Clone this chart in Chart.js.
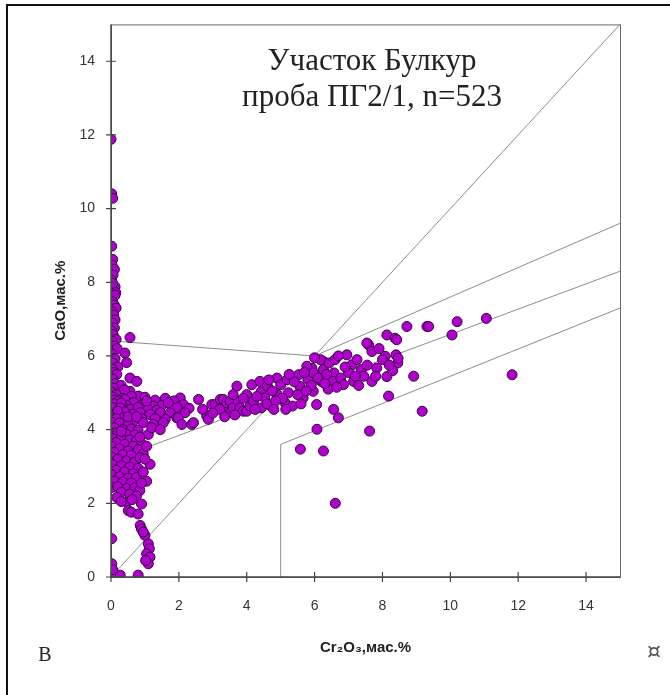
<!DOCTYPE html>
<html>
<head>
<meta charset="utf-8">
<script src="https://cdn.jsdelivr.net/npm/chart.js@4/dist/chart.umd.min.js"></script>
<style>
  html, body { margin: 0; padding: 0; background: #fff; }
  #plot { display: block; }
</style>
</head>
<body>
<canvas id="plot" width="670" height="695"></canvas>
<script>
// garnet analyses, [Cr2O3, CaO] wt.%
// near-zero Cr2O3 column, high CaO
const columnPts = [
    [0.0, 11.88], [0.02, 10.4], [0.05, 10.28], [0.02, 8.98], [0.05, 8.62], [0.03, 8.47],
    [0.1, 8.35], [0.06, 8.2], [0.02, 8.05], [0.12, 7.88], [0.05, 7.97], [0.14, 7.72],
    [0.03, 7.6], [0.12, 7.65], [0.05, 7.47], [0.1, 7.38], [0.15, 7.3], [0.03, 7.2],
    [0.08, 7.11], [0.12, 6.98], [0.04, 6.89], [0.1, 6.76], [0.02, 6.68], [0.06, 6.58],
    [0.56, 6.5], [0.15, 6.45], [0.03, 6.4], [0.1, 6.27], [0.05, 6.15], [0.18, 6.2],
    [0.41, 6.08], [0.02, 6.05], [0.12, 5.93], [0.46, 5.82], [0.06, 5.8], [0.2, 5.7],
    [0.03, 5.65], [0.1, 5.55], [0.17, 5.5], [0.56, 5.4], [0.76, 5.31], [0.04, 5.38],
    [0.12, 5.25], [0.3, 5.2], [0.07, 5.13]
];
// main low-Cr cluster
const corePts = [
    [0.02, 5.02], [0.27, 5.0], [0.56, 5.04], [0.4, 5.08], [0.15, 4.95],
    [0.81, 4.91], [0.6, 4.9], [0.05, 4.88], [0.35, 4.85], [1.0, 4.88],
    [0.41, 4.82], [0.07, 4.8], [0.22, 4.78], [1.3, 4.8], [1.6, 4.85], [2.04, 4.86], [1.85, 4.78],
    [0.66, 4.73], [0.95, 4.68], [1.25, 4.64], [1.5, 4.66], [1.69, 4.73], [2.13, 4.68],
    [0.12, 4.7], [0.45, 4.66], [0.3, 4.72],
    [0.27, 4.59], [0.56, 4.55], [0.02, 4.6], [0.8, 4.6], [1.1, 4.55], [1.35, 4.52], [1.95, 4.6], [2.3, 4.58],
    [0.86, 4.46], [1.15, 4.41], [1.45, 4.46], [1.74, 4.46], [2.18, 4.46], [0.07, 4.41],
    [0.4, 4.48], [0.2, 4.5], [0.65, 4.42], [1.94, 4.32],
    [0.36, 4.32], [1.98, 4.32], [0.15, 4.3], [0.9, 4.3], [1.6, 4.28], [1.3, 4.3],
    [0.66, 4.23], [0.95, 4.19], [1.25, 4.14], [1.54, 4.19], [2.09, 4.14], [2.38, 4.14],
    [0.03, 4.2], [0.25, 4.18], [0.5, 4.12],
    [0.1, 4.05], [0.35, 4.0], [0.6, 4.02], [0.8, 3.98], [0.02, 3.9], [0.2, 3.92],
    [0.45, 3.88], [0.7, 3.85], [1.1, 3.87],
    [0.05, 3.75], [0.3, 3.78], [0.55, 3.72], [0.75, 3.7], [0.15, 3.65], [0.4, 3.6],
    [0.9, 3.62], [0.65, 3.55], [0.02, 3.55],
    [0.25, 3.48], [0.5, 3.42], [0.8, 3.45], [0.1, 3.38], [0.35, 3.32], [0.6, 3.3],
    [0.95, 3.35], [0.02, 3.25], [0.2, 3.2],
    [0.45, 3.15], [0.7, 3.12], [0.86, 3.24], [1.15, 3.06], [0.05, 3.05], [0.3, 3.02],
    [0.55, 2.98], [0.8, 2.95], [0.15, 2.9],
    [0.4, 2.85], [0.65, 2.8], [0.02, 2.78], [0.25, 2.72], [0.5, 2.68], [0.75, 2.7],
    [0.1, 2.6], [0.35, 2.58], [0.6, 2.55],
    [0.02, 2.43], [0.2, 2.45], [0.45, 2.4], [0.7, 2.42], [0.85, 2.35], [0.3, 2.3],
    [0.55, 2.25], [0.17, 2.16], [0.75, 2.2],
    [0.46, 2.03], [0.9, 1.98], [0.3, 2.05], [0.62, 2.1],
    [1.05, 3.55], [1.0, 3.2], [0.95, 2.85], [1.05, 2.6], [0.9, 2.55], [1.2, 4.05],
    [1.45, 4.0], [0.85, 3.8], [0.5, 4.35], [0.75, 4.35], [1.05, 4.78], [0.3, 3.95]
];
// low-CaO tail and points on the axes
const tailPts = [
    [0.51, 1.8], [0.6, 1.76], [0.8, 1.71], [0.86, 1.4], [0.9, 1.3], [1.0, 1.13],
    [0.95, 1.22], [1.1, 0.9], [1.13, 0.77], [1.05, 0.63], [1.15, 0.54], [1.1, 0.36],
    [1.02, 0.45], [0.02, 1.04], [0.02, 0.36], [0.0, 0.05], [0.12, 0.0], [0.27, 0.05],
    [0.8, 0.05], [0.05, 0.2]
];
// lherzolite trend
const trendPts = [
    [2.58, 4.82], [2.43, 4.19], [2.82, 4.37], [2.87, 4.28], [2.97, 4.68], [3.07, 4.68],
    [3.22, 4.82], [3.31, 4.82], [3.36, 4.59], [3.41, 4.73], [3.51, 4.46], [3.51, 4.77],
    [3.6, 4.59], [3.71, 5.18], [3.75, 4.77], [3.8, 4.59], [3.9, 4.5], [4.0, 4.95],
    [4.0, 4.5], [4.1, 4.64], [4.15, 5.22], [4.2, 4.77], [4.39, 5.31], [4.43, 5.04],
    [4.43, 4.59], [4.53, 4.86], [4.61, 5.18], [4.71, 4.64], [4.89, 5.4], [4.9, 4.95],
    [5.0, 5.22], [5.13, 4.73], [5.19, 5.36], [5.23, 5.0], [5.35, 4.64], [5.53, 5.49],
    [5.56, 5.18], [5.66, 4.86], [5.8, 5.36], [5.92, 5.67], [5.96, 5.04], [6.06, 4.68],
    [6.2, 5.31], [6.26, 5.85], [5.77, 5.72], [5.97, 5.54], [6.17, 5.9], [6.26, 5.63],
    [6.43, 5.81], [6.57, 5.54], [6.53, 5.31], [6.77, 5.4], [6.95, 6.03], [6.85, 5.22],
    [7.1, 5.76], [7.15, 5.31], [7.38, 5.63], [7.59, 6.3], [7.54, 6.35], [7.69, 6.12],
    [7.69, 5.31], [7.83, 5.67], [8.08, 5.99], [8.13, 6.57], [8.13, 5.44], [8.37, 6.48],
    [8.4, 6.03], [8.45, 5.81], [8.72, 6.8], [8.92, 5.45], [9.31, 6.8], [8.0, 5.9],
    [8.46, 5.94], [8.3, 5.6], [8.42, 6.44],
    [4.3, 4.9], [4.75, 5.05], [5.05, 4.85], [5.4, 5.3], [5.7, 5.55], [6.0, 5.95],
    [6.35, 5.5], [6.6, 5.9], [6.7, 6.0], [7.0, 5.55], [7.25, 5.9], [7.45, 5.45],
    [7.9, 6.2], [5.5, 4.95], [4.6, 4.7], [3.2, 4.55], [2.7, 4.55], [3.9, 4.85],
    [4.85, 4.78], [6.1, 5.4], [6.9, 5.7], [7.3, 5.2], [7.8, 5.45], [8.2, 5.75],
    [6.4, 5.1], [5.9, 5.2], [5.25, 5.5], [4.65, 5.35], [3.6, 4.95],
    [3.0, 4.45], [3.35, 4.35], [3.65, 4.4], [4.25, 4.55], [4.8, 4.55], [5.15, 4.55],
    [5.6, 4.7], [5.75, 5.05], [6.3, 5.25], [6.65, 5.15], [7.2, 5.45], [7.55, 5.75]
];
// scattered high-Cr grains
const outlierPts = [
    [5.58, 3.47], [6.26, 3.42], [6.07, 4.01], [6.61, 2.0], [7.62, 3.96], [8.18, 4.91],
    [9.17, 4.5], [6.56, 4.55], [6.7, 4.32], [9.36, 6.8], [10.2, 6.93], [10.05, 6.57],
    [11.06, 7.02], [11.82, 5.49]
];

// field boundaries
const diagLine = [[0, 0], [15, 15]];
const capLine = [[0.27, 6.39], [6, 6]];
const upperLine = [[6, 6], [15, 9.6]];
const middleLine = [[1.0, 3.5], [15, 8.3]];
const lowerLine = [[5, 0], [5, 3.6], [15, 7.3]];

const axisTicks = [0, 2, 4, 6, 8, 10, 12, 14];
const titleLines = ['Участок Булкур', 'проба ПГ2/1, n=523'];

const toXY = arr => arr.map(p => ({ x: p[0], y: p[1] }));
const allPts = [].concat(columnPts, corePts, tailPts, trendPts, outlierPts);

function boundary(arr) {
    return {
        type: 'line',
        data: toXY(arr),
        borderColor: '#8c8c8c',
        borderWidth: 1,
        pointRadius: 0,
        fill: false,
        tension: 0,
        order: 2
    };
}

// axes box, crossing tick marks and free text
const decor = {
    id: 'decor',
    afterDraw(chart) {
        const ctx = chart.ctx;
        const a = chart.chartArea;
        const xs = chart.scales.x, ys = chart.scales.y;
        ctx.save();
        ctx.strokeStyle = '#6a6a6a';
        ctx.lineWidth = 1;
        ctx.strokeRect(a.left + 0.5, a.top + 0.5, a.right - a.left, a.bottom - a.top);
        ctx.strokeStyle = '#444';
        ctx.lineWidth = 1.5;
        ctx.beginPath();
        ctx.moveTo(a.left, a.top);
        ctx.lineTo(a.left, a.bottom);
        ctx.lineTo(a.right, a.bottom);
        ctx.stroke();
        ctx.lineWidth = 1.2;
        axisTicks.forEach(v => {
            const px = xs.getPixelForValue(v);
            const py = ys.getPixelForValue(v);
            ctx.beginPath();
            ctx.moveTo(px, a.bottom - 5);
            ctx.lineTo(px, a.bottom + 5);
            ctx.moveTo(a.left - 5, py);
            ctx.lineTo(a.left + 5, py);
            ctx.stroke();
        });

        // outer frame
        ctx.strokeStyle = '#111';
        ctx.lineWidth = 2;
        ctx.beginPath();
        ctx.moveTo(7, 695);
        ctx.lineTo(7, 5);
        ctx.lineTo(670, 5);
        ctx.stroke();

        ctx.fillStyle = '#222';
        ctx.textAlign = 'center';
        ctx.textBaseline = 'middle';
        ctx.font = '31px "Liberation Serif", "Times New Roman", serif';
        ctx.fillText(titleLines[0], 372, 62);
        ctx.fillText(titleLines[1], 372, 98);

        ctx.font = 'bold 15px "Liberation Sans", Arial, sans-serif';
        ctx.fillText('Cr₂O₃,мас.%', (a.left + a.right) / 2, 648);
        ctx.save();
        ctx.translate(61, (a.top + a.bottom) / 2);
        ctx.rotate(-Math.PI / 2);
        ctx.fillText('CaO,мас.%', 0, 0);
        ctx.restore();

        ctx.font = '20px "Liberation Serif", "Times New Roman", serif';
        ctx.fillText('В', 45, 656);
        ctx.font = '22px "DejaVu Sans", sans-serif';
        ctx.fillStyle = '#555';
        ctx.fillText('¤', 654, 652);
        ctx.restore();
    }
};

const tickFont = { family: '"Liberation Sans", Arial, sans-serif', size: 14 };

new Chart(document.getElementById('plot'), {
    type: 'scatter',
    data: {
        datasets: [{
            data: toXY(allPts),
            backgroundColor: 'rgb(176, 0, 204)',
            borderColor: 'rgb(55, 0, 70)',
            borderWidth: 1,
            pointRadius: 5,
            order: 1
        },
        boundary(diagLine),
        boundary(capLine),
        boundary(upperLine),
        boundary(middleLine),
        boundary(lowerLine)]
    },
    options: {
        responsive: false,
        animation: false,
        devicePixelRatio: 1,
        layout: { padding: { left: 0, right: 50, top: 21, bottom: 0 } },
        plugins: { legend: { display: false }, tooltip: { enabled: false } },
        scales: {
            x: {
                type: 'linear',
                min: 0,
                max: 15,
                afterBuildTicks: s => { s.ticks = axisTicks.map(v => ({ value: v })); },
                afterFit: s => { s.height = 118; },
                grid: { display: false, drawTicks: false },
                border: { display: false },
                ticks: { font: tickFont, color: '#333', padding: 21, maxRotation: 0 }
            },
            y: {
                type: 'linear',
                min: 0,
                max: 15,
                afterBuildTicks: s => { s.ticks = axisTicks.map(v => ({ value: v })); },
                afterFit: s => { s.width = 111; },
                grid: { display: false, drawTicks: false },
                border: { display: false },
                ticks: { font: tickFont, color: '#333', padding: 16 }
            }
        }
    },
    plugins: [decor]
});
</script>
</body>
</html>
